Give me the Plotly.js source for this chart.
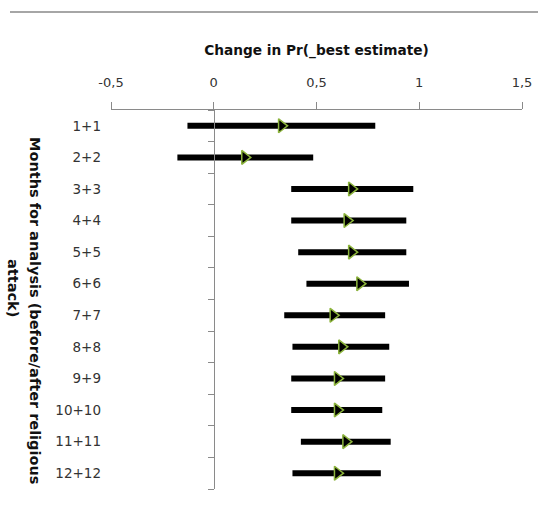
<!DOCTYPE html>
<html><head><meta charset="utf-8">
<script src="https://cdn.plot.ly/plotly-3.0.1.min.js"></script>
<style>html,body{margin:0;padding:0;background:#fff}#chart{width:538px;height:506px}</style>
</head><body><div id="chart"></div>
<script>
const categories = ['1+1','2+2','3+3','4+4','5+5','6+6','7+7','8+8','9+9','10+10','11+11','12+12'];
const estimate = [0.330, 0.151, 0.671, 0.649, 0.671, 0.711, 0.581, 0.623, 0.602, 0.602, 0.643, 0.602];
const lower    = [-0.128, -0.177, 0.377, 0.377, 0.411, 0.451, 0.343, 0.383, 0.377, 0.377, 0.424, 0.383];
const upper    = [0.786, 0.484, 0.971, 0.937, 0.937, 0.950, 0.834, 0.854, 0.834, 0.820, 0.861, 0.813];
const xTickVals = [-0.5, 0, 0.5, 1, 1.5];
const xTickText = ['-0,5', '0', '0,5', '1', '1,5'];
const xTitle = 'Change in Pr(_best estimate)';
const yTitleLine1 = 'Months for analysis (before/after religious';
const yTitleLine2 = 'attack)';

const idx = categories.map((c, i) => i);
const boundaries = categories.map((c, i) => i - 0.5).concat([categories.length - 0.5]);
const FONT = '"DejaVu Sans", Verdana, sans-serif';

const trace = {
  type: 'scatter', mode: 'markers',
  x: estimate, y: idx,
  marker: {symbol: 'triangle-right', size: 12, color: '#000', line: {color: '#8cb43c', width: 1.5}},
  error_x: {type: 'data', symmetric: false,
    array: upper.map((u, i) => u - estimate[i]),
    arrayminus: lower.map((l, i) => estimate[i] - l),
    color: '#000', thickness: 6, width: 0},
  hoverinfo: 'x+y', showlegend: false
};
const labelTrace = {
  type: 'scatter', mode: 'markers', x: estimate, y: idx, yaxis: 'y2',
  marker: {opacity: 0}, hoverinfo: 'skip', showlegend: false
};

const layout = {
  width: 538, height: 506,
  margin: {l: 111, r: 16, t: 110, b: 17},
  paper_bgcolor: '#fff', plot_bgcolor: '#fff',
  font: {family: FONT, size: 13, color: '#333'},
  xaxis: {
    side: 'top', range: [-0.5, 1.5], tickvals: xTickVals, ticktext: xTickText,
    ticks: 'outside', ticklen: 7, tickcolor: '#8a8a8a', tickwidth: 1,
    showline: true, linecolor: '#8a8a8a', linewidth: 1,
    showgrid: false, zeroline: false, ticklabelstandoff: 10,
    tickfont: {family: FONT, size: 13, color: '#333'},
    title: {text: '<b>' + xTitle + '</b>', font: {family: FONT, size: 13.7, color: '#111'}, standoff: 16}
  },
  yaxis: {
    anchor: 'free', position: 0.25, range: [categories.length - 0.5, -0.5],
    tickvals: boundaries, showticklabels: false,
    ticks: 'outside', ticklen: 6, tickcolor: '#8a8a8a',
    showline: true, linecolor: '#8a8a8a', linewidth: 1,
    showgrid: false, zeroline: false
  },
  yaxis2: {
    overlaying: 'y', anchor: 'free', position: 0, side: 'left',
    range: [categories.length - 0.5, -0.5],
    tickvals: idx, ticktext: categories, ticks: '', showline: false,
    showgrid: false, zeroline: false, ticklabelstandoff: 10,
    tickfont: {family: FONT, size: 13.5, color: '#333'}
  },
  shapes: [{type: 'line', xref: 'paper', yref: 'paper',
    x0: (10 - 111) / 411, x1: (538 - 111) / 411, y0: (489 - 12) / 379, y1: (489 - 12) / 379,
    line: {color: '#a6a6a6', width: 2}}],
  annotations: [
    {xref: 'paper', yref: 'paper', x: (35 - 111) / 411, y: (489 - 310) / 379,
     text: '<b>' + yTitleLine1 + '</b>', textangle: 90, showarrow: false,
     xanchor: 'center', yanchor: 'middle', font: {family: FONT, size: 14.5, color: '#111'}},
    {xref: 'paper', yref: 'paper', x: (13 - 111) / 411, y: (489 - 288) / 379,
     text: '<b>' + yTitleLine2 + '</b>', textangle: 90, showarrow: false,
     xanchor: 'center', yanchor: 'middle', font: {family: FONT, size: 14.5, color: '#111'}}
  ]
};

Plotly.newPlot('chart', [trace, labelTrace], layout, {displayModeBar: false, staticPlot: true});
</script>
</body></html>
